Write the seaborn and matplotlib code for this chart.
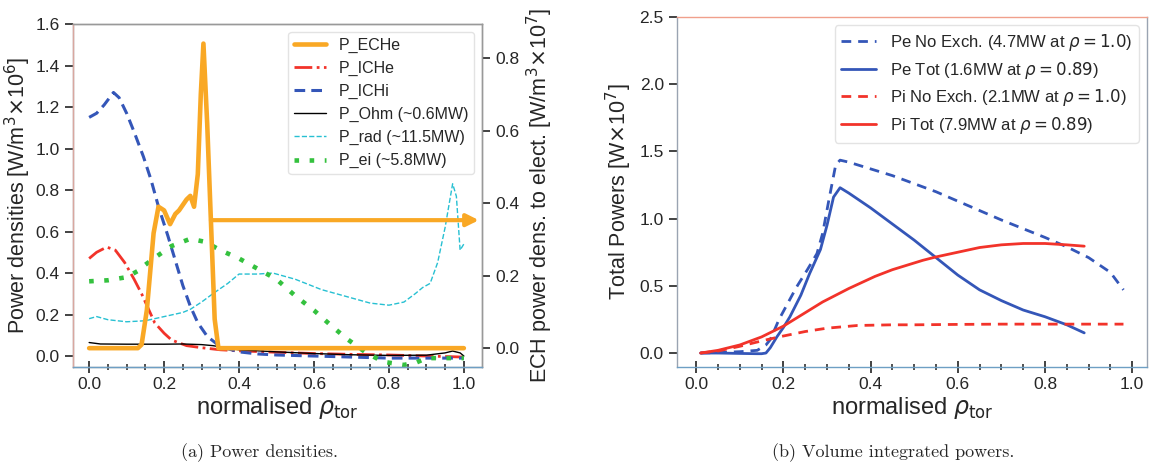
import numpy as np
import matplotlib
matplotlib.use("Agg")
import matplotlib.pyplot as plt
from matplotlib.ticker import MultipleLocator
import seaborn as sns

# ---------------- data ----------------
# Panel (a) power densities [W/m^3 x 1e6], left axis
ichi_x = [0, 0.02, 0.04, 0.065, 0.08, 0.1, 0.12, 0.145, 0.165, 0.185, 0.21, 0.23, 0.25, 0.27,
          0.29, 0.315, 0.35, 0.4, 0.45, 0.5, 0.6, 0.7, 0.8, 0.9, 1.0]
ichi_y = [1.15, 1.17, 1.21, 1.27, 1.245, 1.17, 1.08, 0.96, 0.85, 0.72, 0.58, 0.46, 0.34, 0.24,
          0.16, 0.095, 0.045, 0.02, 0.01, 0.005, 0.0, -0.005, -0.01, -0.01, -0.01]

iche_x = [0, 0.02, 0.047, 0.07, 0.095, 0.12, 0.14, 0.16, 0.175, 0.2, 0.22, 0.26, 0.3, 0.35,
          0.4, 0.5, 0.6, 0.7, 0.8, 0.9, 1.0]
iche_y = [0.47, 0.50, 0.525, 0.51, 0.45, 0.37, 0.30, 0.22, 0.16, 0.11, 0.077, 0.05, 0.04, 0.03,
          0.025, 0.018, 0.012, 0.008, 0.005, 0.0, -0.005]

ohm_x = [0, 0.03, 0.1, 0.2, 0.25, 0.3, 0.33, 0.4, 0.5, 0.6, 0.7, 0.8, 0.9, 0.95, 0.97, 0.99, 1.0]
ohm_y = [0.065, 0.058, 0.057, 0.057, 0.058, 0.055, 0.05, 0.03, 0.02, 0.012, 0.006, 0.003,
         0.004, 0.015, 0.024, 0.015, 0.0]

rad_x = [0, 0.02, 0.05, 0.1, 0.15, 0.2, 0.25, 0.27, 0.3, 0.33, 0.37, 0.4, 0.45, 0.49, 0.55,
         0.62, 0.7, 0.75, 0.8, 0.84, 0.87, 0.89, 0.91, 0.93, 0.95, 0.97, 0.98, 0.99, 1.0]
rad_y = [0.18, 0.19, 0.175, 0.165, 0.17, 0.19, 0.21, 0.225, 0.26, 0.30, 0.35, 0.395, 0.395,
         0.40, 0.37, 0.32, 0.28, 0.255, 0.245, 0.26, 0.30, 0.33, 0.35, 0.45, 0.62, 0.83, 0.77,
         0.51, 0.54]

ei_x = [0, 0.05, 0.1, 0.13, 0.15, 0.18, 0.22, 0.27, 0.31, 0.35, 0.4, 0.44, 0.5, 0.55, 0.6,
        0.65, 0.69, 0.74, 0.785, 0.84, 0.875, 0.9, 0.95, 1.0]
ei_y = [0.36, 0.365, 0.38, 0.41, 0.44, 0.48, 0.53, 0.565, 0.55, 0.51, 0.47, 0.43, 0.37, 0.29,
        0.22, 0.14, 0.08, 0.015, -0.028, -0.043, -0.03, -0.01, -0.01, -0.01]

# ECH power density to electrons [W/m^3 x 1e7], right axis
eche_x = [0, 0.13, 0.14, 0.154, 0.172, 0.185, 0.2, 0.216, 0.23, 0.24, 0.26, 0.27, 0.28, 0.29,
          0.298, 0.305, 0.315, 0.325, 0.335, 0.345, 0.4, 0.6, 0.8, 1.0]
eche_y = [0, 0, 0.01, 0.105, 0.317, 0.39, 0.38, 0.342, 0.37, 0.38, 0.41, 0.42, 0.39, 0.48,
          0.70, 0.84, 0.62, 0.35, 0.08, 0.0, 0.0, 0.0, 0.0, 0.0]
eche_arrow_level = 0.353

labels_a = ["P_ECHe", "P_ICHe", "P_ICHi", "P_Ohm (~0.6MW)", "P_rad (~11.5MW)", "P_ei (~5.8MW)"]

# Panel (b) volume integrated powers [W x 1e7]
pe_ne_x = [0.01, 0.05, 0.1, 0.14, 0.16, 0.17, 0.19, 0.21, 0.23, 0.255, 0.277, 0.29, 0.305,
           0.32, 0.33, 0.35, 0.4, 0.45, 0.5, 0.55, 0.6, 0.65, 0.7, 0.75, 0.8, 0.85, 0.9,
           0.95, 0.98]
pe_ne_y = [0.0, 0.003, 0.01, 0.02, 0.06, 0.1, 0.25, 0.37, 0.49, 0.62, 0.74, 0.89, 1.15,
           1.40, 1.435, 1.42, 1.37, 1.32, 1.26, 1.20, 1.13, 1.06, 0.99, 0.925, 0.86, 0.79,
           0.71, 0.60, 0.47]

pe_tot_x = [0.01, 0.05, 0.1, 0.14, 0.15, 0.16, 0.17, 0.185, 0.2, 0.215, 0.24, 0.26, 0.285,
            0.3, 0.315, 0.33, 0.35, 0.4, 0.45, 0.5, 0.55, 0.6, 0.65, 0.7, 0.75, 0.8, 0.85,
            0.89]
pe_tot_y = [0.0, 0.0, -0.003, -0.005, -0.005, 0.0, 0.04, 0.12, 0.19, 0.27, 0.43, 0.59, 0.77,
            0.95, 1.16, 1.23, 1.19, 1.08, 0.96, 0.84, 0.71, 0.58, 0.47, 0.39, 0.32, 0.27,
            0.21, 0.15]

pi_ne_x = [0.01, 0.05, 0.1, 0.15, 0.19, 0.25, 0.3, 0.37, 0.45, 0.5, 0.6, 0.7, 0.8, 0.9, 0.98]
pi_ne_y = [0.0, 0.015, 0.05, 0.09, 0.12, 0.16, 0.185, 0.205, 0.21, 0.21, 0.213, 0.215, 0.215,
           0.215, 0.215]

pi_tot_x = [0.01, 0.05, 0.1, 0.15, 0.2, 0.25, 0.29, 0.35, 0.41, 0.45, 0.52, 0.55, 0.6, 0.65,
            0.7, 0.75, 0.8, 0.85, 0.89]
pi_tot_y = [0.0, 0.02, 0.06, 0.12, 0.2, 0.3, 0.38, 0.48, 0.57, 0.62, 0.69, 0.715, 0.75,
            0.785, 0.805, 0.815, 0.815, 0.805, 0.795]

labels_b = [r"Pe No Exch. (4.7MW at $\rho = 1.0$)", r"Pe Tot (1.6MW at $\rho = 0.89$)",
            r"Pi No Exch. (2.1MW at $\rho = 1.0$)", r"Pi Tot (7.9MW at $\rho = 0.89$)"]

captions = ["(a) Power densities.", "(b) Volume integrated powers."]

# ---------------- style ----------------
sns.set_style("ticks")
plt.rcParams["font.family"] = ["Liberation Sans", "DejaVu Sans"]
plt.rcParams["mathtext.fontset"] = "dejavusans"

ORANGE = "#f9a825"
RED = "#f2332a"
BLUE = "#3456b8"
CYAN = "#27c0d2"
GREEN = "#34c13e"
TICKC = "#222222"
TICK_FS = 12.5
LAB_FS = 15.5
XLAB_FS = 17
LEG_FS = 11.5

fig = plt.figure(figsize=(11.5, 4.67), dpi=100)
ax = fig.add_axes([0.0635, 0.2141, 0.3555, 0.7345])
ax2 = ax.twinx()
bx = fig.add_axes([0.5887, 0.2141, 0.4087, 0.7495])

# ---------------- panel (a) ----------------
sns.lineplot(x=eche_x, y=eche_y, ax=ax2, color=ORANGE, lw=3.3, label=labels_a[0], legend=False)
sns.lineplot(x=iche_x, y=iche_y, ax=ax, color=RED, lw=2, linestyle="-.", label=labels_a[1], legend=False)
sns.lineplot(x=ichi_x, y=ichi_y, ax=ax, color=BLUE, lw=2.2, linestyle=(0, (3.5, 2)), label=labels_a[2], legend=False)
sns.lineplot(x=ohm_x, y=ohm_y, ax=ax, color="black", lw=1, label=labels_a[3], legend=False)
sns.lineplot(x=rad_x, y=rad_y, ax=ax, color=CYAN, lw=1, linestyle="--", label=labels_a[4], legend=False)
sns.lineplot(x=ei_x, y=ei_y, ax=ax, color=GREEN, lw=3.3, linestyle=(0, (1, 2.3)), label=labels_a[5], legend=False)

ax2.annotate("", xy=(1.04, eche_arrow_level), xytext=(0.325, eche_arrow_level),
             arrowprops=dict(arrowstyle="-|>", color=ORANGE, lw=3, mutation_scale=18,
                             shrinkA=0, shrinkB=0))

ax.set_xlim(-0.043, 1.048)
ax.set_ylim(-0.053, 1.6)
ax2.set_ylim(-0.052, 0.894)
ax.set_xticks([0, 0.2, 0.4, 0.6, 0.8, 1.0])
ax.xaxis.set_minor_locator(MultipleLocator(0.05))
ax.set_yticks(np.arange(0, 1.61, 0.2))
ax2.set_yticks([0, 0.2, 0.4, 0.6, 0.8])
ax.set_xlabel(r"normalised $\rho_{\rm tor}$", fontsize=XLAB_FS, labelpad=2)
ax.set_ylabel(r"Power densities [W/m$^3$$\times$10$^6$]", fontsize=LAB_FS, labelpad=2)
ax2.set_ylabel(r"ECH power dens. to elect. [W/m$^3$$\times$10$^7$]", fontsize=LAB_FS)

h1, l1 = ax2.get_legend_handles_labels()
h2, l2 = ax.get_legend_handles_labels()
leg = ax2.legend(h1 + h2, l1 + l2, loc="upper right", fontsize=LEG_FS, frameon=True,
                 handlelength=2.0, borderpad=0.35, borderaxespad=0.5)
leg.get_frame().set_edgecolor("#dddddd")

# ---------------- panel (b) ----------------
sns.lineplot(x=pe_ne_x, y=pe_ne_y, ax=bx, color=BLUE, lw=2, linestyle=(0, (3.5, 2.5)), label=labels_b[0], legend=False)
sns.lineplot(x=pe_tot_x, y=pe_tot_y, ax=bx, color=BLUE, lw=2, label=labels_b[1], legend=False)
sns.lineplot(x=pi_ne_x, y=pi_ne_y, ax=bx, color=RED, lw=2, linestyle=(0, (3.5, 2.5)), label=labels_b[2], legend=False)
sns.lineplot(x=pi_tot_x, y=pi_tot_y, ax=bx, color=RED, lw=2, label=labels_b[3], legend=False)

bx.set_xlim(-0.044, 1.034)
bx.set_ylim(-0.104, 2.5)
bx.set_xticks([0, 0.2, 0.4, 0.6, 0.8, 1.0])
bx.xaxis.set_minor_locator(MultipleLocator(0.05))
bx.set_yticks([0, 0.5, 1.0, 1.5, 2.0, 2.5])
bx.set_xlabel(r"normalised $\rho_{\rm tor}$", fontsize=XLAB_FS, labelpad=2)
bx.set_ylabel(r"Total Powers [W$\times$10$^7$]", fontsize=LAB_FS)
legb = bx.legend(loc="upper right", fontsize=12, frameon=True, handlelength=2.1,
                 labelspacing=0.4, borderaxespad=0.5)
legb.get_frame().set_edgecolor("#dddddd")

# ---------------- ticks & spines ----------------
for a in (ax, bx):
    a.tick_params(axis="x", which="major", direction="inout", length=8, width=1.2,
                  labelsize=TICK_FS, bottom=True, color=TICKC)
    a.tick_params(axis="x", which="minor", direction="inout", length=4, width=1.1,
                  bottom=True, color=TICKC)
    a.tick_params(axis="y", which="major", direction="out", length=6, width=1.2,
                  labelsize=TICK_FS, left=True, color=TICKC)
ax2.tick_params(axis="y", which="major", direction="out", length=6, width=1.2,
                labelsize=TICK_FS, right=True, color=TICKC)
ax.set_xticklabels(["0.0", "0.2", "0.4", "0.6", "0.8", "1.0"])
bx.set_xticklabels(["0.0", "0.2", "0.4", "0.6", "0.8", "1.0"])

for sp_ax in (ax, ax2):
    for s in sp_ax.spines.values():
        s.set_visible(True)
        s.set_color("#999999")
        s.set_linewidth(1)
ax2.spines["left"].set_color("#d9a7a0")
ax2.spines["bottom"].set_color("#6e9fc4")
for s in bx.spines.values():
    s.set_visible(True)
    s.set_color("#9aa4b2")
    s.set_linewidth(1)
bx.spines["top"].set_color("#f0a08c")
bx.spines["bottom"].set_color("#6e9fc4")

# ---------------- captions ----------------
fig.text(0.226, 0.03, captions[0], ha="center", va="center", fontsize=13, fontfamily="cmr10")
fig.text(0.777, 0.03, captions[1], ha="center", va="center", fontsize=13, fontfamily="cmr10")

fig.savefig("out.png", dpi=100, facecolor="white")
